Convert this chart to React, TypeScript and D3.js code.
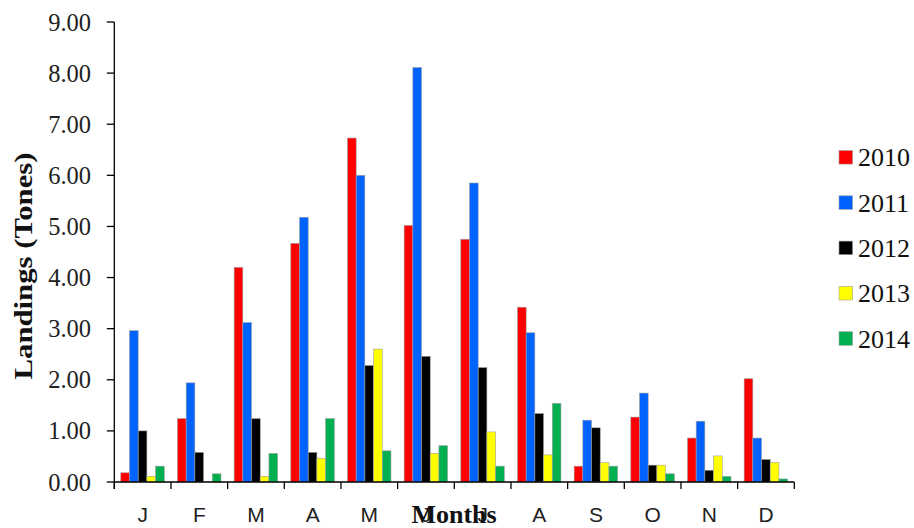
import React from "react";
import * as d3 from "d3";

const months = ["J", "F", "M", "A", "M", "J", "J", "A", "S", "O", "N", "D"];
const years = ["2010", "2011", "2012", "2013", "2014"];
const colors = ["#FF0000", "#0062FF", "#000000", "#FFFF00", "#00B050"];

const v2010 = [0.18, 1.24, 4.2, 4.67, 6.73, 5.02, 4.75, 3.42, 0.31, 1.27, 0.86, 2.02];
const v2011 = [2.96, 1.94, 3.12, 5.18, 6.0, 8.11, 5.85, 2.92, 1.21, 1.74, 1.19, 0.86];
const v2012 = [1.0, 0.58, 1.24, 0.58, 2.28, 2.46, 2.24, 1.34, 1.06, 0.33, 0.23, 0.44];
const v2013 = [0.11, 0.0, 0.11, 0.46, 2.6, 0.56, 0.98, 0.53, 0.38, 0.33, 0.51, 0.38];
const v2014 = [0.31, 0.16, 0.56, 1.24, 0.61, 0.71, 0.31, 1.54, 0.31, 0.16, 0.11, 0.06];
const series = [v2010, v2011, v2012, v2013, v2014];

const yTicks = [0, 1, 2, 3, 4, 5, 6, 7, 8, 9];

export default function App() {
  const W = 914;
  const H = 528;
  const left = 114.3;
  const right = 794.3;
  const top = 22;
  const bottom = 482;

  const x0 = d3
    .scaleBand<number>()
    .domain(months.map((_, i) => i))
    .range([left, right])
    .padding(0);
  const x1 = d3
    .scaleBand<string>()
    .domain(years)
    .range([6.5, 50])
    .padding(0);
  const y = d3.scaleLinear().domain([0, 9]).range([bottom, top]);
  const fmt = d3.format(".2f");

  const boundaries = months.map((_, i) => x0(i)!).concat([right]);

  return (
    <svg
      width={W}
      height={H}
      style={{ position: "absolute", left: 0, top: 0, background: "#fff" }}
    >
      <rect x={0} y={0} width={W} height={H} fill="#fff" />
      {/* bars */}
      {months.map((m, i) => (
        <g key={i} transform={`translate(${x0(i)},0)`}>
          {series.map((s, k) =>
            s[i] > 0 ? (
              <rect
                key={k}
                x={x1(years[k])!}
                y={y(s[i])}
                width={x1.bandwidth()}
                height={bottom - y(s[i])}
                fill={colors[k]}
                stroke="#a0a0a0"
                strokeWidth={0.6}
              />
            ) : null
          )}
        </g>
      ))}
      {/* y axis */}
      <line x1={left} x2={left} y1={top} y2={bottom + 7} stroke="#000" strokeWidth={1.3} />
      {yTicks.map((t) => (
        <g key={t}>
          <line x1={left - 7.5} x2={left} y1={y(t)} y2={y(t)} stroke="#000" strokeWidth={1.3} />
          <text
            x={91}
            y={y(t)}
            dy="0.35em"
            textAnchor="end"
            fontFamily="'Liberation Serif', 'Times New Roman', serif"
            fontSize={24.5}
            fill="#222"
          >
            {fmt(t)}
          </text>
        </g>
      ))}
      {/* x axis */}
      <line x1={left} x2={right} y1={bottom} y2={bottom} stroke="#000" strokeWidth={1.3} />
      {boundaries.map((bx, i) => (
        <line key={i} x1={bx} x2={bx} y1={bottom} y2={bottom + 7} stroke="#000" strokeWidth={1.3} />
      ))}
      {months.map((m, i) => (
        <text
          key={i}
          x={x0(i)! + x0.bandwidth() / 2}
          y={522}
          textAnchor="middle"
          fontFamily="'Liberation Sans', Arial, sans-serif"
          fontSize={21}
          fill="#222"
        >
          {m}
        </text>
      ))}
      {/* axis titles */}
      <text
        x={454}
        y={523}
        textAnchor="middle"
        fontFamily="'Liberation Serif', 'Times New Roman', serif"
        fontWeight="bold"
        fontSize={26}
        fill="#111"
      >
        Months
      </text>
      <text
        transform={`translate(32,266) rotate(-90)`}
        textAnchor="middle"
        fontFamily="'Liberation Serif', 'Times New Roman', serif"
        fontWeight="bold"
        fontSize={25}
        fill="#111"
        textLength={227}
        lengthAdjust="spacingAndGlyphs"
      >
        Landings (Tones)
      </text>
      {/* legend */}
      {years.map((yr, k) => {
        const cy = 157.3 + k * 45.3;
        return (
          <g key={yr}>
            <rect
              x={839}
              y={cy - 6.8}
              width={13.6}
              height={13.6}
              fill={colors[k]}
              stroke="#a0a0a0"
              strokeWidth={0.6}
            />
            <text
              x={858}
              y={cy}
              dy="0.35em"
              fontFamily="'Liberation Serif', 'Times New Roman', serif"
              fontSize={26}
              fill="#111"
            >
              {yr}
            </text>
          </g>
        );
      })}
    </svg>
  );
}
